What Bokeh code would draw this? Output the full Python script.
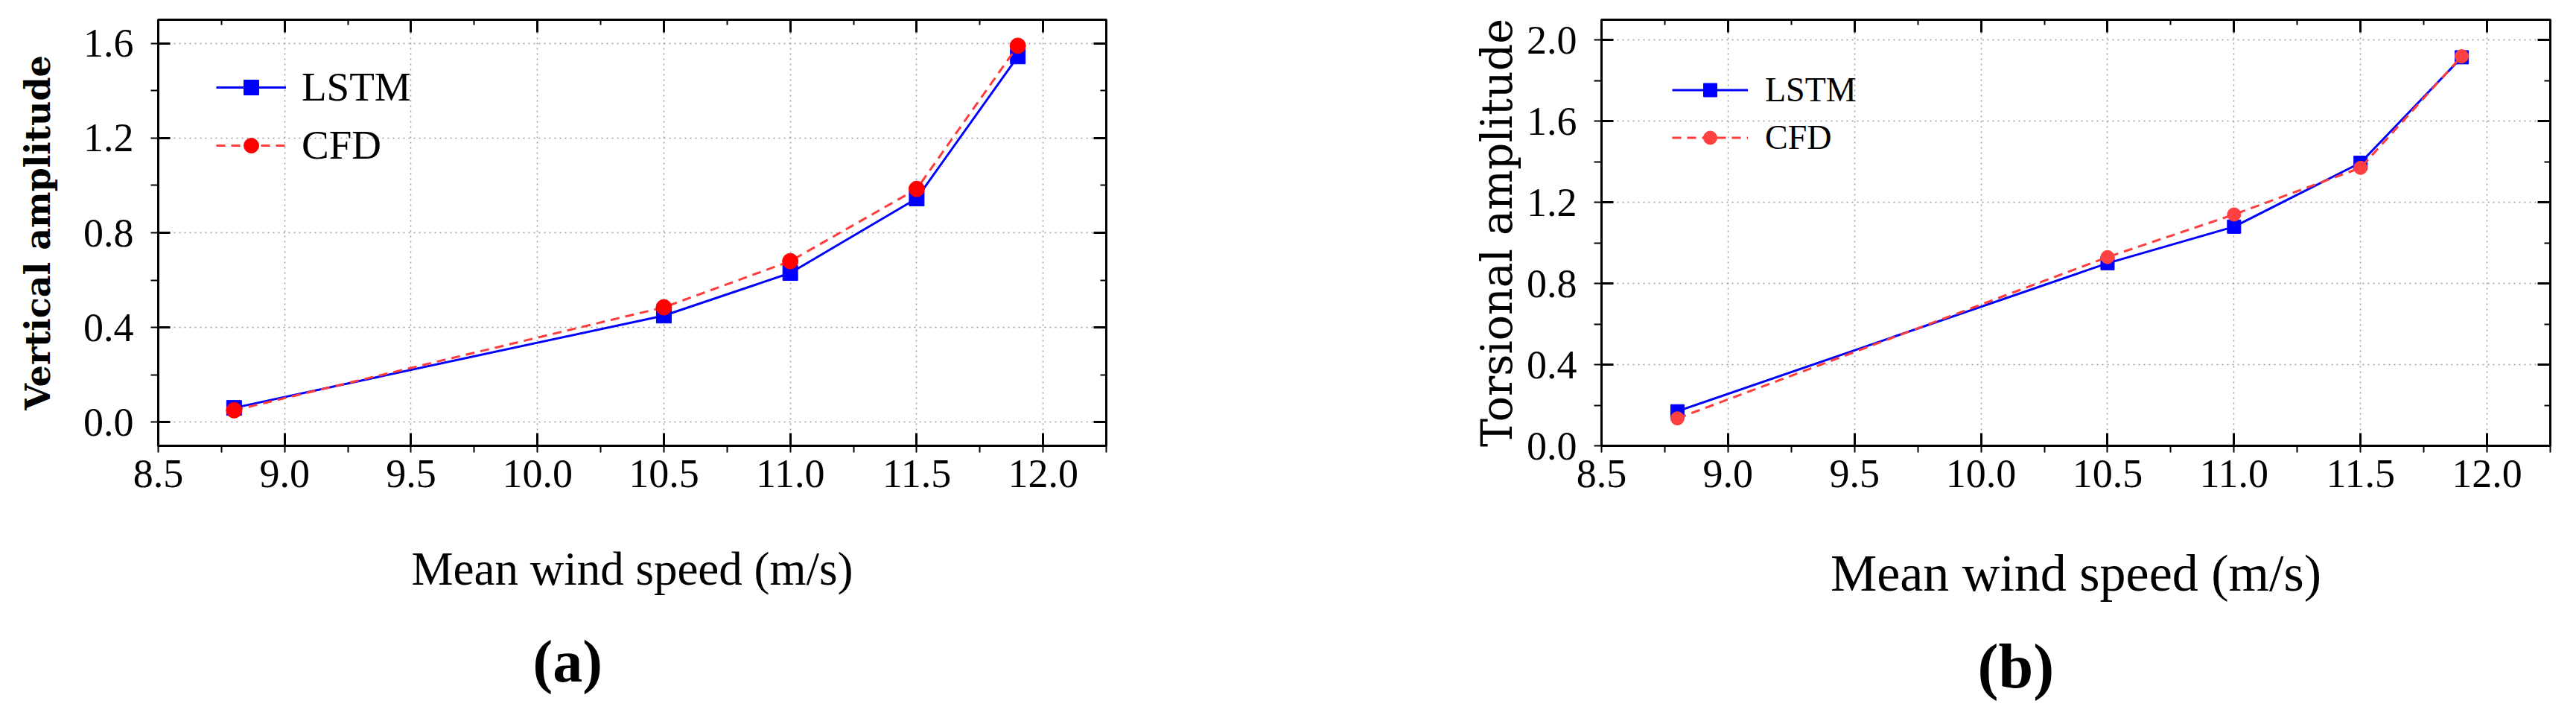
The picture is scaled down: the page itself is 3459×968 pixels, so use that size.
from bokeh.plotting import figure
from bokeh.models import (LinearAxis, SingleIntervalTicker, PrintfTickFormatter, Range1d,
                          Legend, LegendItem, Title, CustomJSTickFormatter)
from bokeh.layouts import row
from bokeh.embed import file_html
from bokeh.resources import INLINE

# ---------------- data ----------------
wind_speed = [8.8, 10.5, 11.0, 11.5, 11.9]
vertical_lstm = [0.06, 0.45, 0.63, 0.945, 1.545]
vertical_cfd = [0.05, 0.485, 0.68, 0.985, 1.59]
torsional_lstm = [0.17, 0.90, 1.08, 1.395, 1.915]
torsional_cfd = [0.135, 0.93, 1.14, 1.37, 1.92]
series_names = ["LSTM", "CFD"]
x_title = "Mean wind speed (m/s)"
y_titles = ["Vertical amplitude", "Torsional amplitude"]
panel_tags = ["(a)", "(b)"]

TICK_FONT = "Liberation Serif"
SERIF = "DejaVu Serif"


def style_axis(ax, major_in, major_out, minor_in, minor_out):
    ax.axis_line_width = 3
    ax.axis_line_color = "black"
    ax.major_tick_line_width = 3
    ax.minor_tick_line_width = 2
    ax.major_tick_line_color = "black"
    ax.minor_tick_line_color = "black"
    ax.major_tick_in = major_in
    ax.major_tick_out = major_out
    ax.minor_tick_in = minor_in
    ax.minor_tick_out = minor_out


def make_panel(cfg):
    p = figure(frame_width=cfg["fw"], frame_height=cfg["fh"],
               min_border_left=cfg["bl"], min_border_right=cfg["br"],
               min_border_top=cfg["bt"], min_border_bottom=cfg["bb"],
               x_range=Range1d(8.5, 12.25), y_range=Range1d(*cfg["yr"]),
               output_backend="svg", toolbar_location=None)
    p.background_fill_color = "white"
    p.border_fill_color = "white"
    p.outline_line_color = "black"
    p.outline_line_width = 3

    xt = SingleIntervalTicker(interval=0.5, num_minor_ticks=2)
    yt = SingleIntervalTicker(interval=0.4, num_minor_ticks=2)
    fmt = PrintfTickFormatter(format="%.1f")
    blank = CustomJSTickFormatter(code="return ''")

    # bottom axis
    xa = p.xaxis[0]
    xa.ticker = xt
    xa.formatter = fmt
    style_axis(xa, 17, 0, 0, 9)
    xa.major_label_text_font = TICK_FONT
    xa.major_label_text_font_size = cfg["tick_fs"]
    xa.major_label_text_color = "black"
    xa.major_label_standoff = cfg["xstand"]
    xa.axis_label = x_title
    xa.axis_label_text_font = TICK_FONT
    xa.axis_label_text_font_style = "normal"
    xa.axis_label_text_font_size = cfg["xt_fs"]
    xa.axis_label_text_color = "black"
    xa.axis_label_standoff = cfg["xlstand"]

    # left axis
    ya = p.yaxis[0]
    ya.ticker = yt
    ya.formatter = fmt
    style_axis(ya, 16, 0, 0, 10)
    ya.major_label_text_font = TICK_FONT
    ya.major_label_text_font_size = cfg["tick_fs"]
    ya.major_label_text_color = "black"
    ya.major_label_standoff = 23
    ya.axis_label = cfg["ytitle"]
    ya.axis_label_text_font = SERIF
    ya.axis_label_text_font_style = cfg["ystyle"]
    ya.axis_label_text_font_size = cfg["yt_fs"]
    ya.axis_label_text_color = "black"
    ya.axis_label_standoff = cfg["ylstand"]

    # top and right axes: ticks only
    top = LinearAxis(ticker=xt, formatter=blank, major_label_text_font_size="1px",
                     major_label_standoff=0)
    style_axis(top, 17, 0, 7, 0)
    p.add_layout(top, "above")
    right = LinearAxis(ticker=yt, formatter=blank, major_label_text_font_size="1px",
                       major_label_standoff=0)
    style_axis(right, 17, 0, 8, 0)
    p.add_layout(right, "right")

    p.xgrid.ticker = xt
    p.ygrid.ticker = yt
    for g in (p.xgrid[0], p.ygrid[0]):
        g.grid_line_color = "#9a9a9a"
        g.grid_line_width = 1.5
        g.grid_line_dash = "2 5"

    l1 = p.line(wind_speed, cfg["lstm"], line_color="#0000FF", line_width=3)
    s1 = p.scatter(wind_speed, cfg["lstm"], marker="square", size=cfg["sq"],
                   fill_color="#0000FF", line_color="#0000FF")
    l2 = p.line(wind_speed, cfg["cfd"], line_color="#FF3C3C", line_width=3,
                line_dash="12 8")
    s2 = p.scatter(wind_speed, cfg["cfd"], marker="circle", size=cfg["ci"],
                   fill_color=cfg["cfd_marker"], line_color=cfg["cfd_marker"])

    legend = Legend(items=[LegendItem(label=series_names[0], renderers=[l1, s1]),
                           LegendItem(label=series_names[1], renderers=[l2, s2])],
                    location=cfg["leg_loc"], padding=0, margin=0,
                    spacing=cfg["leg_sp"], glyph_width=cfg["gw"], glyph_height=cfg["gh"],
                    label_standoff=cfg["lstand"], label_text_font=TICK_FONT,
                    label_text_font_size=cfg["leg_fs"], label_text_color="black",
                    border_line_color=None, background_fill_alpha=0)
    p.add_layout(legend)

    tag = Title(text=cfg["tag"], align="left", offset=cfg["tag_off"],
                standoff=cfg["tag_stand"], text_font=TICK_FONT, text_font_style="bold",
                text_font_size=cfg["tag_fs"], text_color="black")
    p.add_layout(tag, "below")
    return p


p1 = make_panel(dict(fw=1273, fh=572, bl=212, br=235, bt=26, bb=354, yr=(-0.1, 1.7),
                     tick_fs="54px", xstand=10, xt_fs="63px", xlstand=72,
                     ytitle=y_titles[0], ystyle="bold", yt_fs="46px", ylstand=31,
                     lstm=vertical_lstm, cfd=vertical_cfd, sq=20, ci=21, cfd_marker="#FF0000",
                     leg_loc=(78, 372), leg_sp=15, gw=94, gh=50, lstand=21, leg_fs="55px",
                     tag=panel_tags[0], tag_off=503, tag_stand=81, tag_fs="80px"))

p2 = make_panel(dict(fw=1274, fh=572, bl=430, br=19, bt=26, bb=354, yr=(0.0, 2.1),
                     tick_fs="54px", xstand=10, xt_fs="70px", xlstand=74,
                     ytitle=y_titles[1], ystyle="normal", yt_fs="57px", ylstand=4,
                     lstm=torsional_lstm, cfd=torsional_cfd, sq=18, ci=18, cfd_marker="#FF4040",
                     leg_loc=(95, 387), leg_sp=11, gw=102, gh=45, lstand=23, leg_fs="46px",
                     tag=panel_tags[1], tag_off=505, tag_stand=70, tag_fs="84px"))

layout = row(p1, p2)
open("out.html", "w").write(file_html(layout, INLINE))
